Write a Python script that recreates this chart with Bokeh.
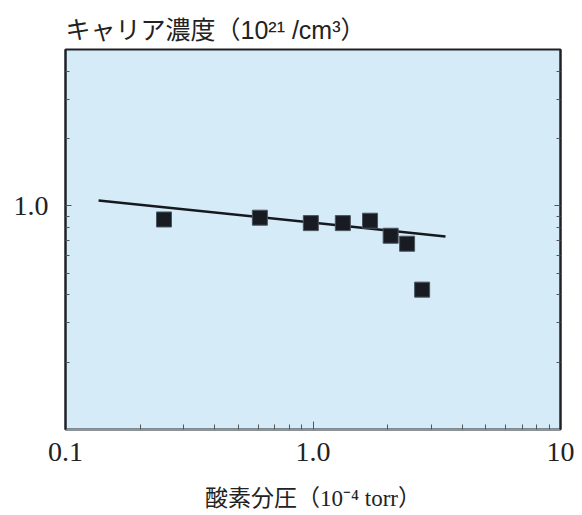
from bokeh.plotting import figure
from bokeh.models import FixedTicker, LogAxis, ColumnDataSource
from bokeh.embed import file_html
from bokeh.resources import INLINE

# ---- data ----
pressure = [0.25, 0.61, 0.98, 1.32, 1.70, 2.06, 2.40, 2.76]          # 10^-4 torr
carrier = [0.869, 0.885, 0.837, 0.837, 0.858, 0.735, 0.677, 0.422]   # 10^21 /cm^3

fit_x = [0.136, 3.43]
fit_y = [1.057, 0.730]

x_ticks = [0.1, 1.0, 10]
x_tick_labels = ["0.1", "1.0", "10"]
x_minor = [0.2, 0.3, 0.4, 0.5, 0.6, 0.7, 0.8, 0.9, 2, 3, 4, 5, 6, 7, 8, 9]
y_ticks = [1.0]
y_tick_labels = ["1.0"]
y_minor = [0.2, 0.3, 0.4, 0.5, 0.6, 0.7, 0.8, 0.9, 2, 3, 4]

title_text = "キャリア濃度（10²¹ /cm³）"
x_title = "酸素分圧（10⁻⁴ torr）"

SERIF = "'Liberation Serif', 'Noto Sans CJK JP'"
SANS = "'Liberation Sans', 'Noto Sans CJK JP'"

p = figure(frame_width=495, frame_height=380, x_axis_type="log", y_axis_type="log",
           x_range=(0.1, 10), y_range=(0.1, 5),
           output_backend="svg", toolbar_location=None,
           min_border_left=65, min_border_right=14, min_border_top=49, min_border_bottom=84)

p.background_fill_color = "#d5ebf8"
p.border_fill_color = "white"
p.outline_line_color = "#1e2226"
p.outline_line_width = 2
p.grid.visible = False

# title
p.title.text = title_text
p.title.text_font = SANS
p.title.text_font_size = "25px"
p.title.text_font_style = "normal"
p.title.text_color = "#222222"
p.title.align = "left"
p.title.vertical_align = "bottom"
p.title.offset = 0
p.title.standoff = 12

xt = FixedTicker(ticks=x_ticks, minor_ticks=x_minor)
yt = FixedTicker(ticks=y_ticks, minor_ticks=y_minor)

xa = p.xaxis[0]
xa.ticker = xt
xa.major_label_overrides = dict(zip(x_ticks, x_tick_labels))
xa.major_label_text_font = SERIF
xa.major_label_text_font_size = "28px"
xa.major_label_text_color = "#222222"
xa.major_label_standoff = 13
xa.major_tick_in = 8
xa.major_tick_out = 0
xa.minor_tick_in = 5
xa.minor_tick_out = 0
xa.major_tick_line_color = "#555555"
xa.minor_tick_line_color = "#555555"
xa.axis_line_color = "#8a97a0"
xa.axis_line_width = 1.5
xa.axis_label = x_title
xa.axis_label_text_font = SERIF
xa.axis_label_text_font_size = "23px"
xa.axis_label_text_font_style = "normal"
xa.axis_label_text_color = "#222222"
xa.axis_label_standoff = 22

ya = p.yaxis[0]
ya.ticker = yt
ya.major_label_overrides = dict(zip(y_ticks, y_tick_labels))
ya.major_label_text_font = SERIF
ya.major_label_text_font_size = "28px"
ya.major_label_text_color = "#222222"
ya.major_label_standoff = 17
ya.major_tick_in = 6
ya.major_tick_out = 0
ya.minor_tick_in = 4
ya.minor_tick_out = 0
ya.major_tick_line_color = "#555555"
ya.minor_tick_line_color = "#555555"
ya.axis_line_color = "#1e2226"
ya.axis_line_width = 2

ra = LogAxis(ticker=FixedTicker(ticks=y_ticks, minor_ticks=y_minor))
ra.major_label_text_font_size = "1px"
ra.major_label_text_alpha = 0
ra.major_label_standoff = 0
ra.major_tick_in = 6
ra.major_tick_out = 0
ra.minor_tick_in = 4
ra.minor_tick_out = 0
ra.major_tick_line_color = "#555555"
ra.minor_tick_line_color = "#555555"
ra.axis_line_color = "#1e2226"
ra.axis_line_width = 2
p.add_layout(ra, "right")

p.line(fit_x, fit_y, line_width=2.5, line_color="#15191f")

src = ColumnDataSource(data=dict(x=pressure, y=carrier))
p.scatter("x", "y", source=src, marker="square", size=15,
          fill_color="#181b22", line_color="#4a5560", line_width=1)

open("out.html", "w").write(file_html(p, INLINE))
